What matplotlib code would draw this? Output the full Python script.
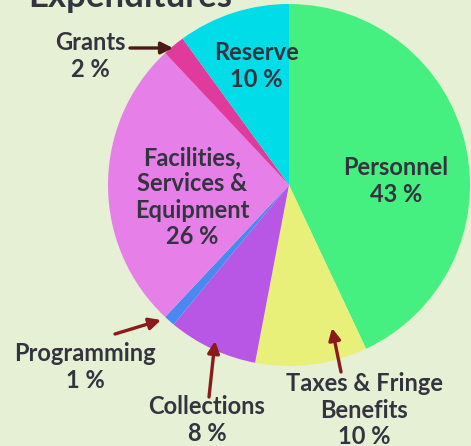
import matplotlib.pyplot as plt

# slice data, clockwise from the top
labels = ["Personnel", "Taxes & Fringe\nBenefits", "Collections", "Programming",
          "Facilities,\nServices &\nEquipment", "Grants", "Reserve"]
values = [43, 10, 8, 1, 26, 2, 10]
colors = ["#45f080", "#e8f07a", "#b856e6", "#4a8af0", "#e77fe8", "#e03a9c", "#00dde8"]

bg = "#e6f0d4"
txt = "#33343f"
H = 446

fig = plt.figure(figsize=(4.71, 4.46), dpi=100, facecolor=bg)
ax = fig.add_axes([0, 0, 1, 1])
ax.set_facecolor(bg)

ax.pie(values, colors=colors, startangle=90, counterclock=False,
       center=(289, H - 185), radius=181, frame=True,
       wedgeprops=dict(linewidth=0))
ax.set_xlim(0, 471)
ax.set_ylim(0, H)
ax.set_aspect("equal")
ax.axis("off")

font = dict(family=["Lato", "DejaVu Sans"], fontweight="bold", color=txt,
            fontsize=17, ha="center", va="center", linespacing=1.17)

def lab(x, y, i, pct=True):
    s = labels[i] + (f"\n{values[i]} %" if pct else "")
    ax.text(x, H - y, s, **font)

def arrow(x0, y0, x1, y1, c="#8b1a1a"):
    ax.annotate("", xy=(x1, H - y1), xytext=(x0, H - y0),
                arrowprops=dict(arrowstyle="-|>,head_length=0.7,head_width=0.35",
                                color=c, lw=2.4, shrinkA=0, shrinkB=0))

# title, mostly cut off at the top as in the original
ax.text(130, H - 7, "Expenditures", family=["Lato", "DejaVu Sans"], fontweight="bold",
        color=txt, fontsize=25, ha="center", va="baseline")

lab(396, 181, 0)
lab(256, 66, 6)
lab(90, 56, 5)
lab(192, 197, 4)
lab(85, 367, 3)
lab(207, 420, 2)
lab(364, 410, 1)

arrow(130, 48, 173, 48, c="#4a1a1a")
arrow(115, 334, 161, 320)
arrow(209, 397, 215, 341)
arrow(341, 372, 332, 328)

fig.savefig("out.png", dpi=100, facecolor=bg)
